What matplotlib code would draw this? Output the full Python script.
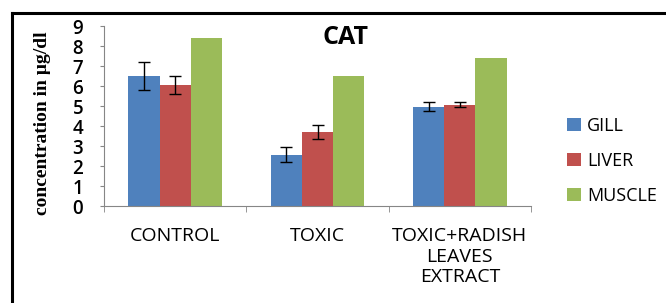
import matplotlib.pyplot as plt
from matplotlib.lines import Line2D
import numpy as np

groups = ["CONTROL", "TOXIC", "TOXIC+RADISH\nLEAVES\nEXTRACT"]
tissues = ["GILL", "LIVER", "MUSCLE"]
gill = [6.5, 2.57, 4.97]
liver = [6.05, 3.7, 5.07]
muscle = [8.4, 6.5, 7.4]
gill_err = [0.7, 0.37, 0.22]
liver_err = [0.45, 0.33, 0.12]
muscle_err = [0, 0, 0]

colors = ["#4F81BD", "#C0504D", "#9BBB59"]


def main():
    fig = plt.figure(figsize=(6.66, 3.03), dpi=100)
    ax = fig.add_axes([104 / 666, 1 - 206 / 303, (531 - 104) / 666, 180 / 303])

    x = np.arange(len(groups))
    w = 0.22
    series = [(gill, gill_err), (liver, liver_err), (muscle, muscle_err)]
    for i, (vals, errs) in enumerate(series):
        pos = x + (i - 1) * w
        ax.bar(pos, vals, w, color=colors[i], label=tissues[i])
        if any(errs):
            ax.errorbar(pos, vals, yerr=errs, fmt="none", ecolor="black",
                        elinewidth=1, capsize=4.5, capthick=1)

    ax.set_xlim(-0.5, 2.5)
    ax.set_ylim(0, 9)
    ax.set_yticks(range(10))
    ax.set_xticks(x)
    ax.set_xticklabels(groups, fontsize=14, family="Open Sans", linespacing=1.2)
    ax.set_xticks([-0.5, 0.5, 1.5, 2.5], minor=True)
    ax.tick_params(axis="x", which="major", length=0, pad=15)
    ax.tick_params(axis="x", which="minor", length=4, color="#868686")
    ax.tick_params(axis="y", length=3, color="#868686", labelsize=13.5, pad=12)
    for t in ax.get_yticklabels():
        t.set_fontweight("semibold")
        t.set_family("Open Sans")
    for s in ["top", "right"]:
        ax.spines[s].set_visible(False)
    for s in ["left", "bottom"]:
        ax.spines[s].set_color("#868686")

    fig.text(43 / 666, 1 - 123 / 303, "concentration in \u00b5g/dl",
             family="Liberation Serif", fontweight="bold", fontsize=14,
             rotation=90, ha="center", va="center")
    fig.text(346 / 666, 1 - 38 / 303, "CAT", ha="center", va="center",
             fontsize=18, fontweight="bold", family="Open Sans")

    ax.legend(loc="center left", bbox_to_anchor=(551 / 666, 1 - 161 / 303),
              bbox_transform=fig.transFigure, frameon=False,
              handlelength=0.75, handleheight=0.75, handletextpad=0.35,
              labelspacing=0.95, prop={"family": "Open Sans", "size": 13})

    # partial frame around the figure
    fig.add_artist(Line2D([12 / 666, 1], [1 - 13 / 303] * 2, color="black",
                          lw=2.2, transform=fig.transFigure))
    fig.add_artist(Line2D([12 / 666] * 2, [0, 1 - 13 / 303], color="black",
                          lw=2.2, transform=fig.transFigure))

    fig.savefig("out.png", dpi=100)


if __name__ == "__main__":
    main()
